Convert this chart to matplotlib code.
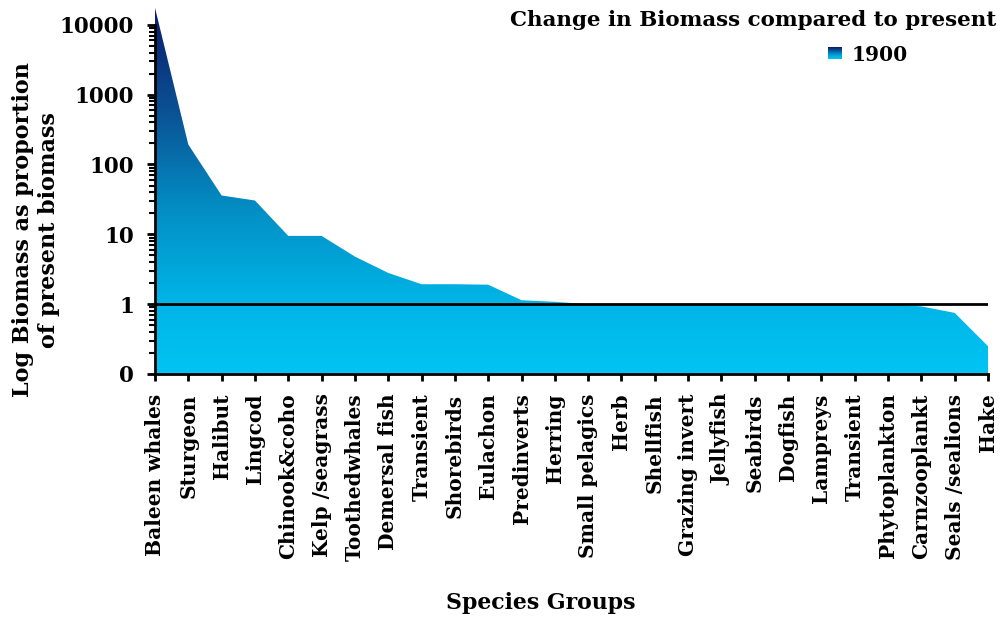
import numpy as np
import matplotlib
matplotlib.use("Agg")
import matplotlib.pyplot as plt
from matplotlib.colors import to_rgb
from matplotlib.ticker import FixedLocator, FixedFormatter, LogLocator, NullFormatter

species = ["Baleen whales", "Sturgeon", "Halibut", "Lingcod", "Chinook&coho",
           "Kelp /seagrass", "Toothedwhales", "Demersal fish", "Transient",
           "Shorebirds", "Eulachon", "Predinverts", "Herring", "Small pelagics",
           "Herb", "Shellfish", "Grazing invert", "Jellyfish", "Seabirds",
           "Dogfish", "Lampreys", "Transient", "Phytoplankton", "Carnzooplankt",
           "Seals /sealions", "Hake"]
biomass_1900 = [17500, 193, 36, 30.5, 9.5, 9.5, 4.8, 2.8, 1.93, 1.93, 1.9,
                1.14, 1.08, 1.0, 1, 1, 1, 1, 1, 1, 1, 1, 1, 0.93, 0.75, 0.25]
ytick_vals = [0.1, 1, 10, 100, 1000, 10000]
ytick_labels = ["0", "1", "10", "100", "1000", "10000"]

plt.rcParams['font.family'] = ['DejaVu Serif']
plt.rcParams['font.weight'] = 'bold'

fig = plt.figure(figsize=(10.05, 6.17), dpi=100)
ax = fig.add_axes([155/1005, 243/617, 833/1005, 367/617])

x = np.arange(len(species))
poly = ax.fill_between(x, 0.1, biomass_1900, facecolor='none', edgecolor='none')

# vertical gradient navy -> cyan (axes fraction), flat cyan at the bottom
stops = [0.0, 0.2, 0.45, 0.7, 1.0]
cols = ["#00c4f4", "#00b4e6", "#038ec4", "#0a5596", "#0a1a6a"]
yy = np.linspace(0, 1, 400)
grad = np.stack([np.interp(yy, stops, [to_rgb(c)[i] for c in cols]) for i in range(3)], axis=-1)
grad = grad[:, None, :]
im = ax.imshow(grad, extent=[0, 1, 0, 1], transform=ax.transAxes, origin='lower',
               aspect='auto', interpolation='bilinear', zorder=1)
im.set_clip_path(poly.get_paths()[0], transform=ax.transData)

ax.set_yscale('log')
ax.set_ylim(0.1, 18000)
ax.set_xlim(0, len(species) - 1)
ax.axhline(1, color='black', linewidth=2, zorder=3)

ax.yaxis.set_major_locator(FixedLocator(ytick_vals))
ax.yaxis.set_major_formatter(FixedFormatter(ytick_labels))
ax.yaxis.set_minor_locator(LogLocator(base=10, subs=np.arange(2, 10), numticks=20))
ax.yaxis.set_minor_formatter(NullFormatter())
ax.tick_params(axis='y', which='major', length=6, width=2, labelsize=15.5, pad=9)
ax.tick_params(axis='y', which='minor', length=4, width=1.5)

ax.set_xticks(x)
ax.set_xticklabels(species, rotation=90, fontsize=14.5, fontweight='bold')
ax.tick_params(axis='x', length=5, width=2, pad=9)

for s in ['top', 'right']:
    ax.spines[s].set_visible(False)
ax.spines['left'].set_linewidth(2)
ax.spines['left'].set_bounds(0.1, 10000)
ax.spines['bottom'].set_linewidth(2)
ax.spines['bottom'].set_zorder(4)

fig.text(36/1005, 1 - 230/617, "Log Biomass as proportion\nof present biomass",
         rotation=90, ha='center', va='center', fontsize=16, fontweight='bold',
         linespacing=1.2)
fig.text(541/1005, 1 - 603/617, "Species Groups", ha='center', va='center',
         fontsize=15.8, fontweight='bold')
fig.text(996/1005, 1 - 20/617, "Change in Biomass compared to present",
         ha='right', va='center', fontsize=15.4, fontweight='bold')

# legend swatch
lax = fig.add_axes([828/1005, 1 - 59/617, 14/1005, 12/617])
lax.imshow(grad[::-1], aspect='auto', extent=[0, 1, 0, 1])
lax.axis('off')
fig.text(852/1005, 1 - 55/617, "1900", ha='left', va='center', fontsize=14.5,
         fontweight='bold')

fig.savefig("out.png", dpi=100)
